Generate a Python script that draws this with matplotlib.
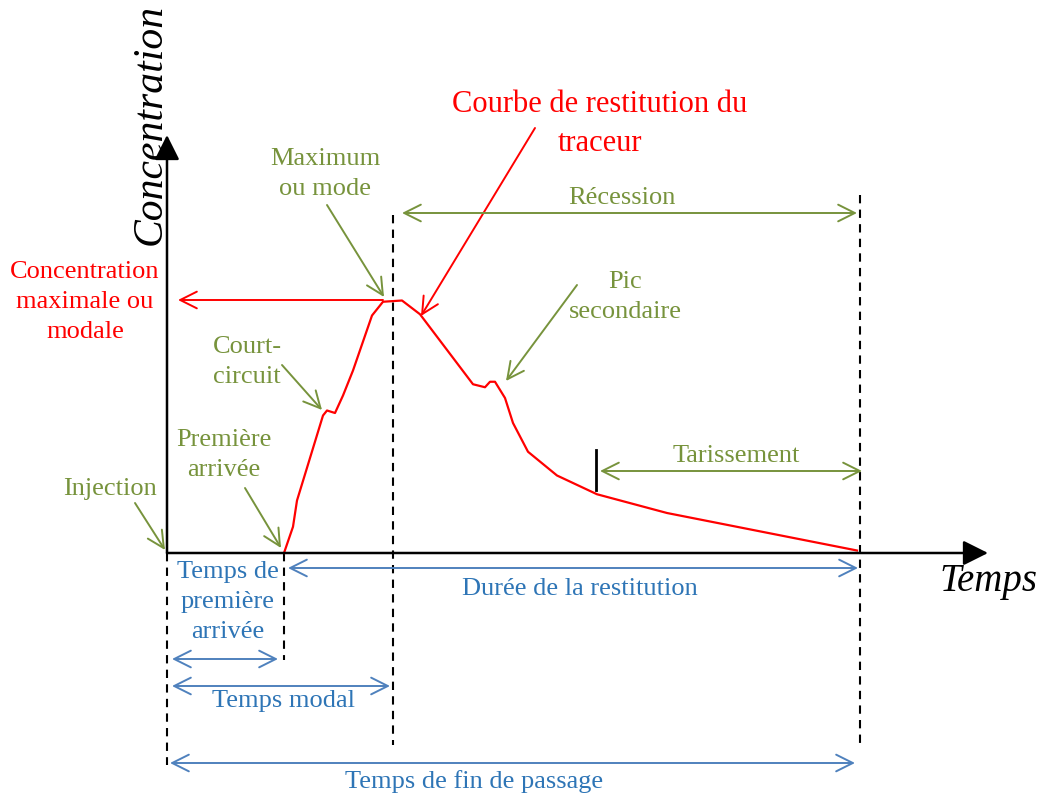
import matplotlib.pyplot as plt

temps = [11.7, 12.6, 13.0, 15.6, 16.0, 16.8, 17.6, 18.6, 20.5, 21.6, 23.5, 25.3,
         30.6, 31.8, 32.3, 32.8, 33.8, 34.6, 36.1, 39.0, 43.0, 50.0, 69.0]
concentration = [0, 10.5, 21, 55, 57, 56, 63, 73, 95, 100.5, 101, 95.5,
                 67.5, 66.3, 68.5, 68.5, 62, 52, 40.5, 31, 23.5, 16, 1]

t_injection = 0.0
t_premiere = 11.7
t_modal = 22.6
t_tarissement = 42.9
t_fin = 69.3
c_max = 101.2

RED = '#FF0000'
GREEN = '#77933C'
BLUE_TXT = '#2E75B6'
BLUE_LN = '#4F81BD'
FONT = 'Liberation Serif'


def px(x, y):
    # position sur l'image de référence -> coordonnées des données
    return ((x - 167) / 10.0, (553 - y) / 2.5)


def cy(y):
    return px(0, y)[1]


def cx(x):
    return px(x, 0)[0]


fig = plt.figure(figsize=(10.43, 8), dpi=100)
ax = fig.add_axes([0, 0, 1, 1])
ax.set_xlim(cx(0), cx(1043))
ax.set_ylim(cy(800), cy(0))
ax.axis('off')


def arrow(tail, tip, color, style='->', lw=1.4, hl=0.6, hw=0.3, ms=20):
    ax.annotate('', xy=tip, xytext=tail,
                arrowprops=dict(arrowstyle=f'{style}, head_length={hl}, head_width={hw}',
                                color=color, lw=lw, shrinkA=0, shrinkB=0,
                                mutation_scale=ms))


def label(x, y, s, color, size=19, **kw):
    ax.text(*px(x, y), s, color=color, fontsize=size, family=FONT,
            ha='center', va='center', multialignment='center',
            linespacing=1.45, **kw)


# axes
ax.annotate('', xy=(0, cy(135)), xytext=(0, 0),
            arrowprops=dict(arrowstyle='-|>', color='black', lw=1.8,
                            shrinkA=0, shrinkB=0, mutation_scale=38))
ax.annotate('', xy=(cx(988), 0), xytext=(0, 0),
            arrowprops=dict(arrowstyle='-|>', color='black', lw=1.8,
                            shrinkA=0, shrinkB=0, mutation_scale=38))

# lignes pointillées
dash = dict(color='black', lw=1.5, ls=(0, (4, 3)))
ax.plot([t_injection, t_injection], [0, cy(765)], **dash)
ax.plot([t_premiere, t_premiere], [0, cy(660)], **dash)
ax.plot([t_modal, t_modal], [cy(215), cy(745)], **dash)
ax.plot([t_fin, t_fin], [cy(195), cy(745)], **dash)

# courbe
ax.plot(temps, concentration, color=RED, lw=1.6)

# concentration maximale
arrow((temps[concentration.index(max(concentration))] - 1.9, c_max), (cx(178), c_max), RED)
label(85, 302, 'Concentration\nmaximale ou\nmodale', RED)

# titre de la courbe
label(600, 124, 'Courbe de restitution du\ntraceur', RED, size=22)
arrow(px(535, 128), px(421, 316), RED)

# annotations vertes
label(325, 174, 'Maximum\nou mode', GREEN)
arrow(px(327, 205), px(384, 297), GREEN)

label(622, 198, 'Récession', GREEN)
arrow((cx(402), cy(213)), (cx(857), cy(213)), GREEN, style='<->')

label(625, 297, 'Pic\nsecondaire', GREEN)
arrow(px(577, 285), px(506, 381), GREEN)

label(247, 362, 'Court-\ncircuit', GREEN)
arrow(px(282, 365), px(322, 410), GREEN)

label(224, 455, 'Première\narrivée', GREEN)
arrow(px(245, 488), px(281, 548), GREEN)

label(110, 489, 'Injection', GREEN)
arrow(px(135, 503), px(165, 550), GREEN)

label(736, 456, 'Tarissement', GREEN)
arrow((cx(600), cy(471)), (cx(862), cy(471)), GREEN, style='<->')
ax.plot([t_tarissement, t_tarissement], [cy(450), cy(490)], color='black', lw=2)

# durées (bleu)
arrow((cx(288), cy(568)), (cx(858), cy(568)), BLUE_LN, style='<->')
label(580, 589, 'Durée de la restitution', BLUE_TXT)

label(228, 602, 'Temps de\npremière\narrivée', BLUE_TXT)
arrow((cx(172), cy(659)), (cx(278), cy(659)), BLUE_LN, style='<->')

arrow((cx(172), cy(686)), (cx(390), cy(686)), BLUE_LN, style='<->')
label(283, 701, 'Temps modal', BLUE_TXT)

arrow((cx(170), cy(763)), (cx(855), cy(763)), BLUE_LN, style='<->')
label(474, 782, 'Temps de fin de passage', BLUE_TXT)

# titres des axes
label(988, 582, 'Temps', 'black', size=28, style='italic')
label(150, 124, 'Concentration', 'black', size=30, style='italic', rotation=90)

fig.savefig('out.png', dpi=100)
